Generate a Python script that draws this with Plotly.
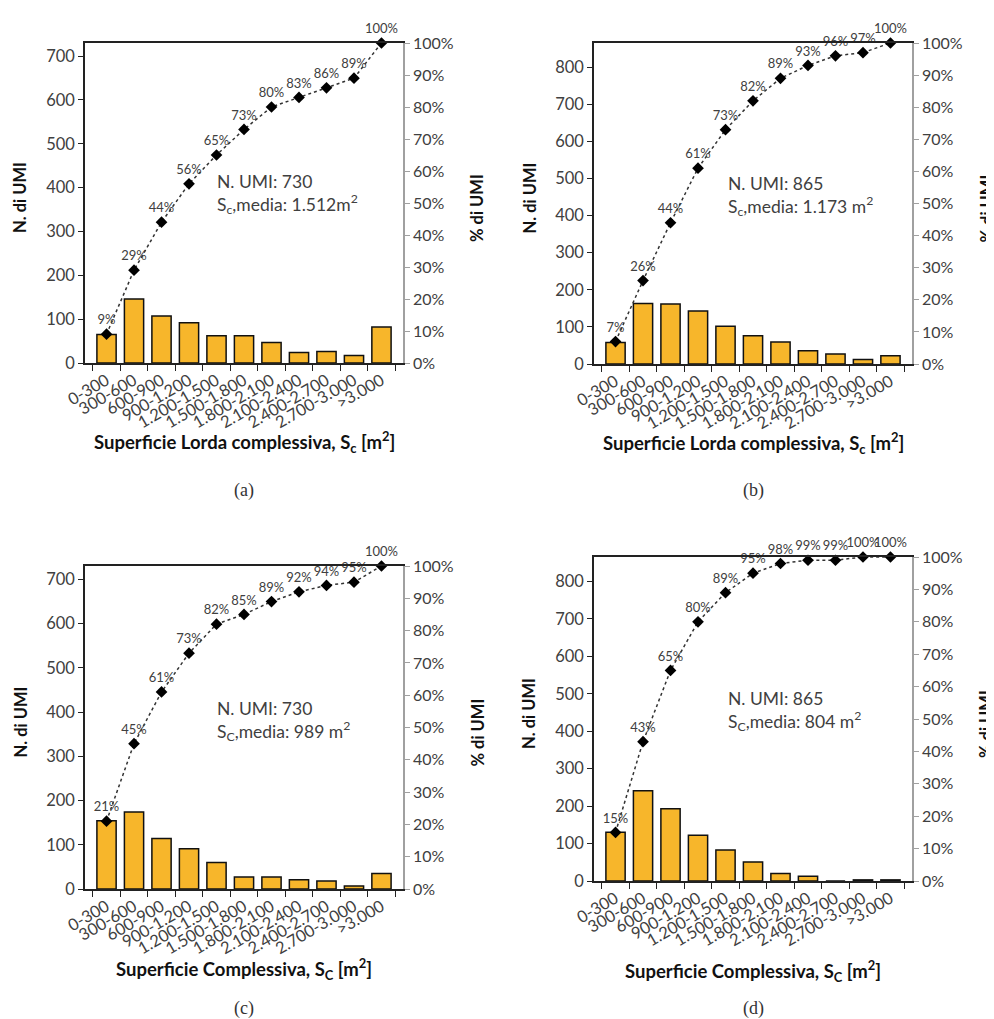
import plotly.graph_objects as go

categories = ["0-300", "300-600", "600-900", "900-1.200", "1.200-1.500", "1.500-1.800",
              "1.800-2.100", "2.100-2.400", "2.400-2.700", "2.700-3.000", ">3.000"]

counts_a = [65, 146, 107, 92, 62, 62, 47, 24, 26, 17, 82]
pct_a = [9, 29, 44, 56, 65, 73, 80, 83, 86, 89, 100]
counts_b = [58, 163, 162, 143, 102, 76, 59, 36, 27, 12, 22]
pct_b = [7, 26, 44, 61, 73, 82, 89, 93, 96, 97, 100]
counts_c = [154, 174, 114, 91, 60, 27, 27, 21, 18, 7, 35]
pct_c = [21, 45, 61, 73, 82, 85, 89, 92, 94, 95, 100]
counts_d = [130, 241, 193, 122, 83, 51, 20, 13, 0, 3, 3]
pct_d = [15, 43, 65, 80, 89, 95, 98, 99, 99, 100, 100]

totals = [730, 865, 730, 865]
left_ticks_a = [0, 100, 200, 300, 400, 500, 600, 700]
left_ticks_b = [0, 100, 200, 300, 400, 500, 600, 700, 800]
info_a = ["N. UMI: 730", "S<sub>c</sub>,media: 1.512m<sup>2</sup>"]
info_b = ["N. UMI: 865", "S<sub>c</sub>,media: 1.173 m<sup>2</sup>"]
info_c = ["N. UMI: 730", "S<sub>C</sub>,media: 989 m<sup>2</sup>"]
info_d = ["N. UMI: 865", "S<sub>C</sub>,media: 804 m<sup>2</sup>"]
xtitle_ab = "Superficie Lorda complessiva, S<sub>c</sub> [m<sup>2</sup>]"
xtitle_cd = "Superficie Complessiva, S<sub>C</sub> [m<sup>2</sup>]"
captions = ["(a)", "(b)", "(c)", "(d)"]

W, H = 994, 1019
OFF = 8  # page body margin
FONT = "Lato"
BAR = "#F7B62B"
TXT = "#404040"

# pixel boxes of each plot area: (left, right, top, bottom)
boxes = [(85, 403, 43, 363), (594, 912, 43, 364), (85, 403, 566, 889), (594, 912, 557, 881)]
info_pos = [(215, 194), (726, 196), (215, 721), (726, 711)]
xtitle_y = [442, 443, 969, 971]
caption_y = [490, 490, 1008, 1008]

panels = [
    (counts_a, pct_a, left_ticks_a, info_a, xtitle_ab),
    (counts_b, pct_b, left_ticks_b, info_b, xtitle_ab),
    (counts_c, pct_c, left_ticks_a, info_c, xtitle_cd),
    (counts_d, pct_d, left_ticks_b, info_d, xtitle_cd),
]

def px(x):
    return (x - OFF) / W

def py(y):
    return 1 - (y - OFF) / H

fig = go.Figure()
layout = dict(
    template="none",
    width=W, height=H, margin=dict(l=0, r=0, t=0, b=0, pad=0, autoexpand=False),
    paper_bgcolor="white", plot_bgcolor="white", showlegend=False,
    font=dict(family=FONT, color=TXT),
)
annotations = []

for i, (counts, pcts, lticks, info, xtitle) in enumerate(panels):
    n = i + 1
    l, r, t, b = boxes[i]
    xa = "x" if n == 1 else f"x{n}"
    ya = "y" if n == 1 else f"y{n}"
    ya2 = f"y{n + 4}"
    fig.add_trace(go.Bar(
        x=categories, y=counts, xaxis=xa, yaxis=ya,
        marker=dict(color=BAR, line=dict(color="#111111", width=1.5)),
    ))
    fig.add_trace(go.Scatter(
        x=categories, y=[p / 100 for p in pcts], xaxis=xa, yaxis=ya2,
        mode="lines+markers+text",
        line=dict(color="#333333", width=1.5, dash="dot"),
        marker=dict(symbol="diamond", size=9, color="black"),
        text=[f"{p}%" for p in pcts], textposition="top center",
        textfont=dict(family=FONT, size=13, color=TXT),
        cliponaxis=False,
    ))
    layout[f"xaxis{n}"] = dict(
        domain=[px(l), px(r)], anchor=ya, type="category", automargin=False,
        showline=True, linecolor="#222222", linewidth=1.5, mirror=True,
        ticks="outside", ticklen=6, tickcolor="#222222", tickson="boundaries",
        tickangle=-30, tickfont=dict(family=FONT, size=16.5, color=TXT),
        showgrid=False, zeroline=False, fixedrange=True,
    )
    layout[f"yaxis{n}"] = dict(
        domain=[py(b), py(t)], anchor=xa, range=[0, totals[i]], automargin=False,
        tickvals=lticks, showline=True, linecolor="#222222", linewidth=1.5,
        ticks="outside", ticklen=5, tickcolor="#222222",
        tickfont=dict(family=FONT, size=16.5, color=TXT),
        showgrid=False, zeroline=False,
    )
    layout[f"yaxis{n + 4}"] = dict(
        overlaying=ya, anchor=xa, side="right", range=[0, 1], automargin=False,
        tickvals=[k / 10 for k in range(11)], tickformat=".0%",
        showline=True, linecolor="#A0A0A0", linewidth=1.5,
        ticks="outside", ticklen=5, tickcolor="#A0A0A0",
        tickfont=dict(family=FONT, size=16, color=TXT),
        showgrid=False, zeroline=False,
    )
    cx = (l + r) / 2
    ix, iy = info_pos[i]
    annotations.append(dict(
        xref="paper", yref="paper", x=px(ix), y=py(iy),
        xanchor="left", yanchor="middle", align="left", showarrow=False,
        text="<br>".join(info), font=dict(family=FONT, size=17.5, color=TXT),
    ))
    annotations.append(dict(
        xref="paper", yref="paper", x=px(l - 65), y=py((t + b) / 2 - 5),
        xanchor="center", yanchor="middle", textangle=-90, showarrow=False,
        text="<b>N. di UMI</b>", font=dict(family=FONT, size=16.5, color="#111111"),
    ))
    annotations.append(dict(
        xref="paper", yref="paper", x=px(r + 74), y=py((t + b) / 2 + 5),
        xanchor="center", yanchor="middle", textangle=-90, showarrow=False,
        text="<b>% di UMI</b>", font=dict(family=FONT, size=16.5, color="#111111"),
    ))
    annotations.append(dict(
        xref="paper", yref="paper", x=px(cx), y=py(xtitle_y[i]),
        xanchor="center", yanchor="middle", showarrow=False,
        text=f"<b>{xtitle}</b>", font=dict(family=FONT, size=18.5, color="#111111"),
    ))
    annotations.append(dict(
        xref="paper", yref="paper", x=px(cx), y=py(caption_y[i]),
        xanchor="center", yanchor="middle", showarrow=False,
        text=captions[i], font=dict(family="Liberation Serif", size=18, color="#333333"),
    ))

layout["annotations"] = annotations
layout["bargap"] = 0.3
fig.update_layout(**layout)
fig.write_html("out.html")
